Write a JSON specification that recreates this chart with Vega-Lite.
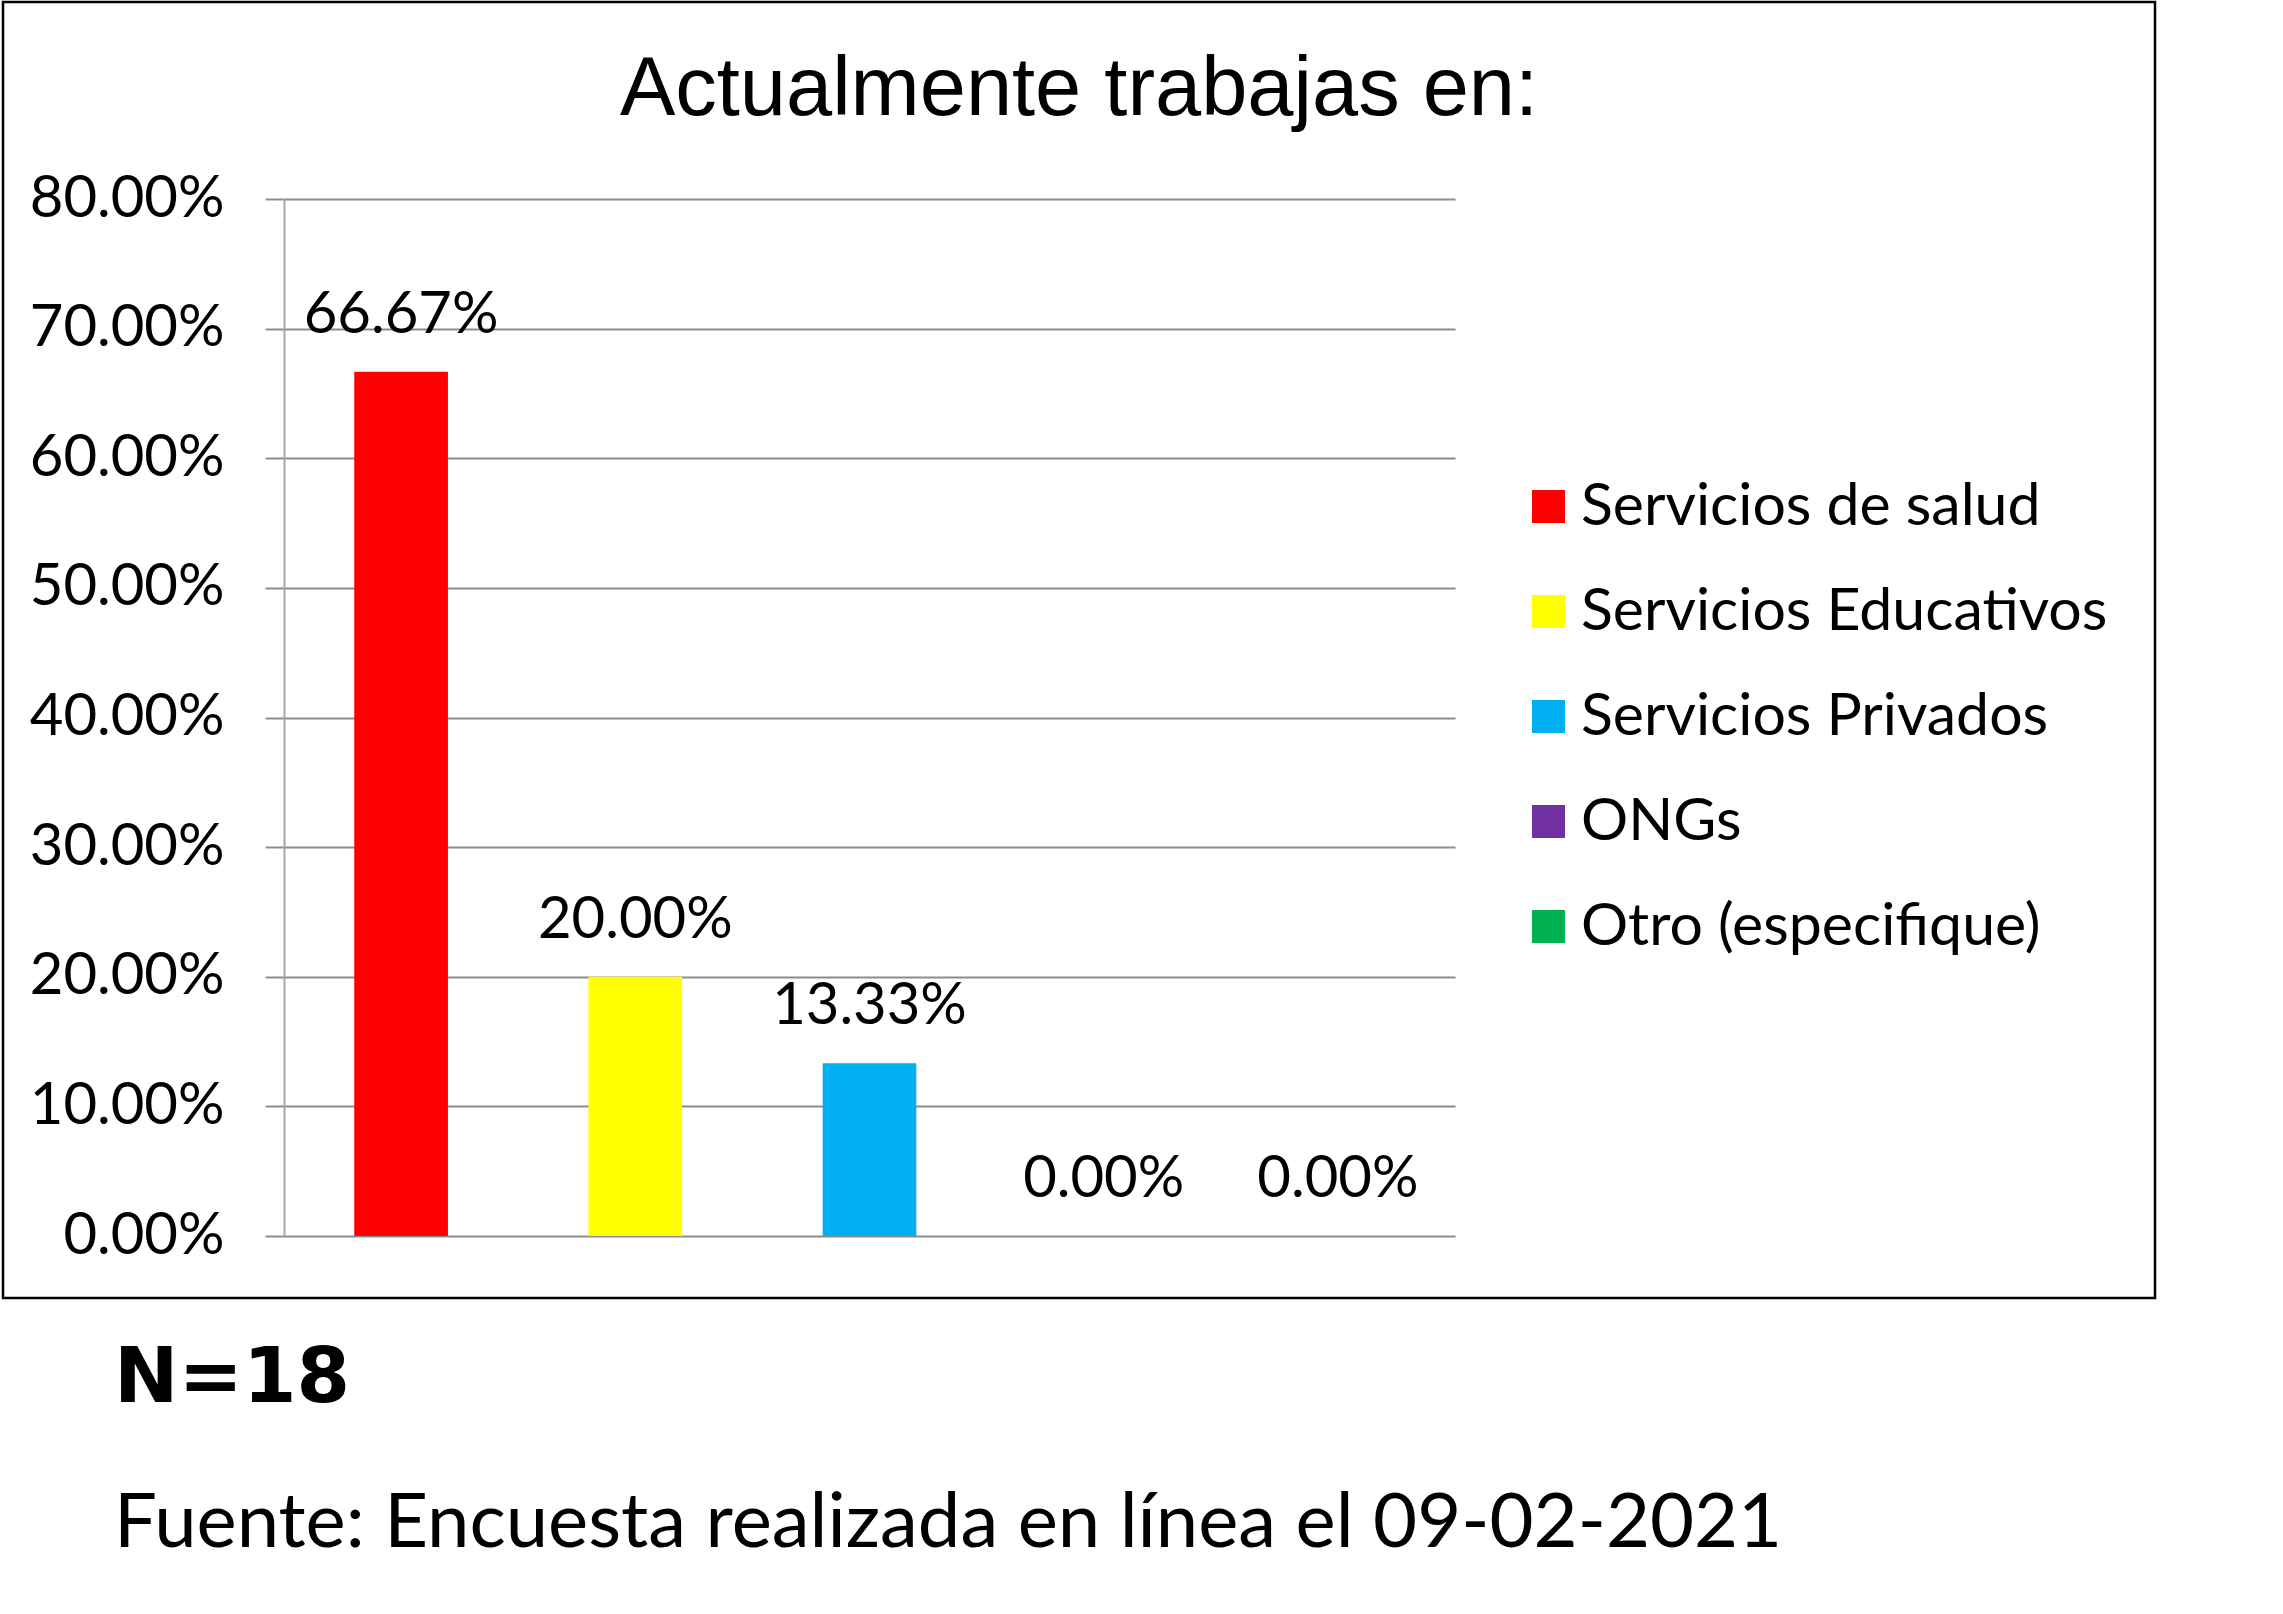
{
  "$schema": "https://vega.github.io/schema/vega-lite/v6.json",
  "padding": {"left": 1, "top": 0, "right": 1, "bottom": 1},
  "background": "white",
  "title": {
    "text": "N=18",
    "subtitle": "Fuente: Encuesta realizada en línea el 09-02-2021",
    "orient": "bottom",
    "anchor": "start",
    "frame": "group",
    "dx": 111,
    "offset": 42,
    "font": "DejaVu Sans",
    "fontSize": 77,
    "fontWeight": "bold",
    "color": "black",
    "subtitleFont": "Lato",
    "subtitleFontSize": 76,
    "subtitleColor": "black",
    "subtitlePadding": 69
  },
  "config": {"view": {"stroke": "black", "strokeWidth": 2.5}},
  "vconcat": [
    {
      "width": 2152,
      "height": 1296,
      "title": {
        "text": "Actualmente trabajas en:",
        "font": "Liberation Sans",
        "fontSize": 83,
        "fontWeight": "normal",
        "color": "black",
        "anchor": "middle",
        "frame": "group",
        "offset": -196,
        "baseline": "alphabetic"
      },
      "data": {
        "values": [
          {"cat": "Servicios de salud", "pct": 0.6667},
          {"cat": "Servicios Educativos", "pct": 0.20},
          {"cat": "Servicios Privados", "pct": 0.1333},
          {"cat": "ONGs", "pct": 0.0},
          {"cat": "Otro (especifique)", "pct": 0.0}
        ]
      },
      "encoding": {
        "x": {
          "field": "cat",
          "type": "nominal",
          "sort": null,
          "scale": {"range": [281, 1452], "paddingInner": 0.6, "paddingOuter": 0.3},
          "axis": null
        },
        "y": {
          "field": "pct",
          "type": "quantitative",
          "scale": {"domain": [0, 0.8], "range": [1234, 197], "nice": false, "zero": true},
          "axis": {
            "values": [0, 0.1, 0.2, 0.3, 0.4, 0.5, 0.6, 0.7, 0.8],
            "format": ".2%",
            "offset": -281,
            "grid": true,
            "gridColor": "#8c8c8c",
            "gridWidth": 2,
            "domainColor": "#a6a6a6",
            "domainWidth": 2,
            "tickColor": "#8c8c8c",
            "tickWidth": 2,
            "tickSize": 19,
            "labelPadding": 41,
            "labelLimit": 500,
            "labelFont": "Lato",
            "labelFontSize": 58,
            "labelColor": "black",
            "title": null
          }
        }
      },
      "layer": [
        {
          "mark": {"type": "bar"},
          "encoding": {
            "color": {
              "field": "cat",
              "type": "nominal",
              "sort": null,
              "scale": {
                "domain": ["Servicios de salud", "Servicios Educativos", "Servicios Privados", "ONGs", "Otro (especifique)"],
                "range": ["#FF0000", "#FFFF00", "#00B0F0", "#7030A0", "#00B050"]
              },
              "legend": {
                "orient": "none",
                "legendX": 1516,
                "legendY": 475,
                "title": null,
                "symbolType": "square",
                "symbolSize": 1089,
                "symbolStrokeWidth": 0,
                "symbolOpacity": 1,
                "labelFont": "Lato",
                "labelFontSize": 59,
                "labelColor": "black",
                "labelOffset": 3,
                "rowPadding": 45,
                "labelLimit": 800
              }
            }
          }
        },
        {
          "mark": {"type": "text", "dy": -56, "baseline": "middle", "font": "Lato", "fontSize": 58, "color": "black"},
          "encoding": {"text": {"field": "pct", "type": "quantitative", "format": ".2%"}}
        }
      ]
    }
  ]
}
